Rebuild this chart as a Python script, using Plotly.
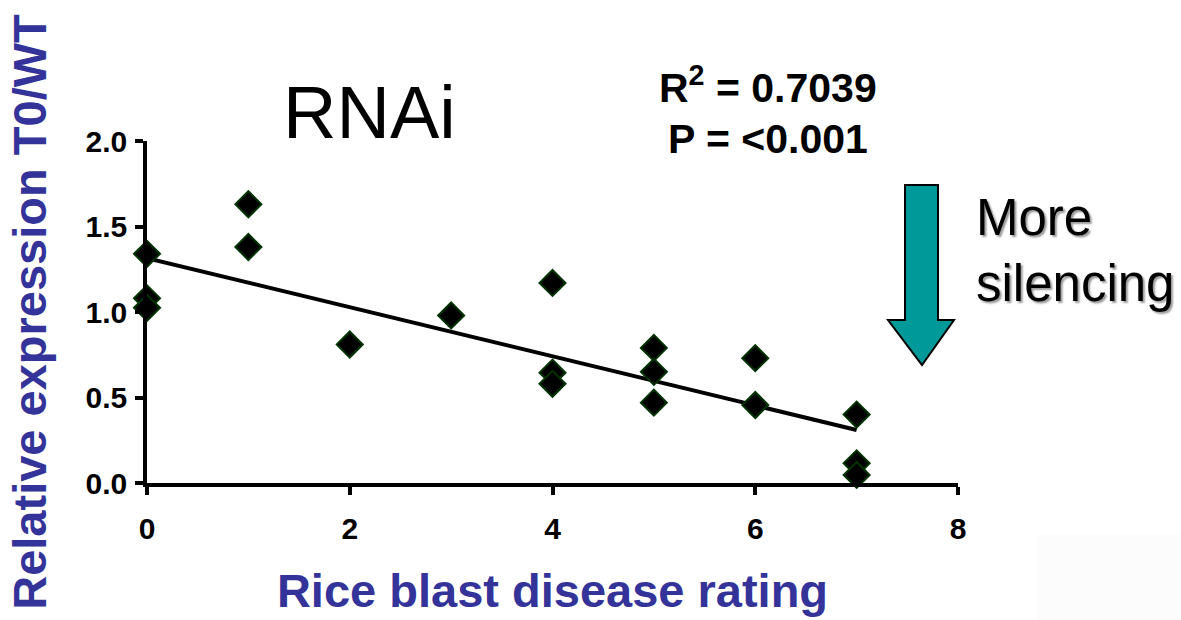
import plotly.graph_objects as go

# ---- data ----
disease_rating = [0, 0, 0, 1, 1, 2, 3, 4, 4, 4, 5, 5, 5, 6, 6, 7, 7, 7]
relative_expr = [1.34, 1.08, 1.025, 1.63, 1.38, 0.81, 0.98, 1.17, 0.645, 0.58,
                 0.79, 0.65, 0.47, 0.73, 0.456, 0.40, 0.115, 0.047]
trend_x = [0, 7]
trend_y = [1.315, 0.31]
x_ticks = [0, 2, 4, 6, 8]
y_ticks = [0.0, 0.5, 1.0, 1.5, 2.0]

W, H = 1181, 620
L, R, T, B = 147, 958, 141, 483  # plot area in pixels


def px(x):
    return (x - L) / (R - L)


def py(y):
    return (B - y) / (B - T)


FONT = "Liberation Sans, Arial, sans-serif"
TITLE_COLOR = "#333399"

fig = go.Figure()

fig.add_trace(go.Scatter(
    x=trend_x, y=trend_y, mode="lines",
    line=dict(color="black", width=4),
    hoverinfo="skip", showlegend=False, cliponaxis=False,
))

fig.add_trace(go.Scatter(
    x=disease_rating, y=relative_expr, mode="markers",
    marker=dict(symbol="diamond", size=20, color="black",
                line=dict(color="#003300", width=2)),
    showlegend=False, cliponaxis=False,
))

fig.update_layout(
    width=W, height=H,
    margin=dict(l=L, r=W - R, t=T, b=H - B, pad=0, autoexpand=False),
    paper_bgcolor="white", plot_bgcolor="white",
    font=dict(family=FONT, color="black"),
    xaxis=dict(
        range=[0, 8], tickvals=x_ticks,
        ticktext=[f"<b>{v}</b>" for v in x_ticks],
        showline=True, linecolor="black", linewidth=3.5,
        ticks="outside", ticklen=8, tickwidth=3.5, tickcolor="black",
        showgrid=False, zeroline=False, automargin=False,
        tickfont=dict(family=FONT, size=30, color="black"),
        ticklabelstandoff=8,
        title=dict(text="<b>Rice blast disease rating</b>", standoff=31,
                   font=dict(family=FONT, size=47, color=TITLE_COLOR)),
    ),
    yaxis=dict(
        range=[0, 2], tickvals=y_ticks,
        ticktext=[f"<b>{v:.1f}</b>" for v in y_ticks],
        showline=True, linecolor="black", linewidth=3.5,
        ticks="outside", ticklen=8, tickwidth=3.5, tickcolor="black",
        showgrid=False, zeroline=False, automargin=False,
        tickfont=dict(family=FONT, size=30, color="black"),
        ticklabelstandoff=2,
        title=dict(text="<b>Relative expression T0/WT</b>", standoff=25,
                   font=dict(family=FONT, size=47, color=TITLE_COLOR)),
    ),
)

# Arrow (teal, pointing down)
arrow_pts = [(905, 185), (938, 185), (938, 320), (954, 320), (922, 365),
             (888, 320), (905, 320)]
path = "M " + " L ".join(f"{px(x):.5f},{py(y):.5f}" for x, y in arrow_pts) + " Z"
fig.add_shape(type="path", path=path, xref="paper", yref="paper",
              fillcolor="#009999", line=dict(color="black", width=2))

# faint off-white box bottom right
fig.add_shape(type="rect", xref="paper", yref="paper",
              x0=px(1037), x1=px(1185), y0=py(535), y1=py(625),
              fillcolor="#fcfcfc", line=dict(width=0), layer="below")

fig.add_annotation(text="RNAi", xref="paper", yref="paper",
                   x=px(369), y=py(112), xanchor="center", yanchor="middle",
                   showarrow=False, font=dict(family=FONT, size=74, color="black"))

fig.add_annotation(text="<b>R<sup>2</sup> = 0.7039</b>", xref="paper", yref="paper",
                   x=px(768), y=py(85), xanchor="center", yanchor="middle",
                   showarrow=False, font=dict(family=FONT, size=41, color="black"))
fig.add_annotation(text="<b>P = <0.001</b>", xref="paper", yref="paper",
                   x=px(768), y=py(139), xanchor="center", yanchor="middle",
                   showarrow=False, font=dict(family=FONT, size=41, color="black"))

fig.add_annotation(text="More<br>silencing", xref="paper", yref="paper",
                   x=px(974), y=py(250), xanchor="left", yanchor="middle",
                   align="left", showarrow=False,
                   font=dict(family=FONT, size=51, color="black",
                             shadow="2px 2px 2px #9a9a9a"))

fig.write_html("out.html")
